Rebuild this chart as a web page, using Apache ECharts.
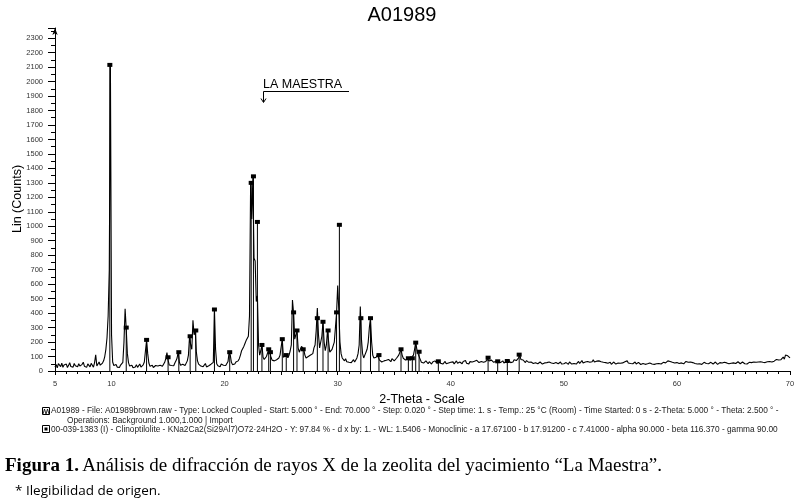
<!DOCTYPE html>
<html><head><meta charset="utf-8">
<script src="https://cdn.jsdelivr.net/npm/echarts@6/dist/echarts.min.js"></script>
<style>html,body{margin:0;padding:0;background:#fff}#c{width:799px;height:500px}</style>
</head><body><div id="c"></div>
<script>
const startTheta = 5.0;
const stepTheta = 0.1;
const counts = [
 28,45,22,51,38,30,55,26,42,35,
 48,24,39,57,31,44,27,52,36,41,
 29,50,34,23,46,61,33,40,25,49,
 37,28,53,42,26,58,112,35,47,62,
 40,33,55,70,100,150,230,380,700,2120,
 250,62,38,30,45,27,36,24,41,33,
 60,200,430,290,120,58,34,26,40,22,
 35,28,44,25,31,48,27,36,42,62,
 140,210,120,55,33,27,40,24,31,38,
 26,35,22,40,29,33,45,60,85,128,
 75,42,30,38,48,36,55,70,90,135,
 60,40,33,47,52,38,44,70,110,240,
 180,150,350,250,280,130,70,48,40,34,
 45,30,38,52,28,41,36,33,47,39,
 60,426,150,50,36,42,30,48,35,40,
 52,38,46,65,130,110,60,44,55,48,
 62,58,70,85,110,140,150,170,190,210,
 210,240,380,1300,1050,1340,780,760,480,520,
 180,110,140,180,95,80,70,100,90,150,
 130,95,75,82,70,66,78,72,90,110,
 120,220,95,90,110,100,92,110,140,180,
 490,400,220,250,280,160,130,150,170,160,
 150,110,90,88,100,92,110,98,120,160,
 180,280,435,250,160,170,240,340,200,140,
 180,280,200,130,120,150,160,200,300,400,
 590,420,200,120,90,80,70,85,64,72,
 60,70,58,66,78,62,70,90,120,180,
 445,220,120,90,110,130,150,200,300,365,
 200,110,90,80,95,110,120,75,70,62,
 58,70,62,74,66,80,72,64,85,78,
 70,82,88,95,110,130,150,110,88,80,
 75,70,90,85,75,92,88,110,150,200,
 150,120,133,80,60,66,55,62,70,58,
 50,64,56,48,62,57,70,60,52,70,
 65,54,60,48,58,66,50,61,55,47,
 60,52,63,49,57,70,53,48,62,55,
 50,66,58,72,54,60,48,65,57,62,
 56,68,60,74,62,58,70,65,78,60,
 72,66,80,92,70,62,75,68,60,72,
 68,70,66,74,58,64,70,55,62,66,
 69,75,64,58,70,62,78,85,72,80,
 90,113,80,70,76,66,58,72,64,60,
 55,62,68,52,60,57,64,50,58,62,
 54,48,60,56,45,58,52,62,49,55,
 60,52,47,58,64,50,56,62,48,53,
 50,44,58,52,46,62,55,48,60,52,
 56,48,60,66,52,58,72,55,50,62,
 58,66,75,60,70,64,78,62,56,68,
 62,70,58,64,55,60,52,58,66,54,
 50,60,46,56,62,52,48,58,55,60,
 54,62,56,48,64,58,70,55,60,52,
 58,50,56,62,48,55,60,50,45,54,
 52,58,46,55,50,44,56,60,48,52,
 46,55,50,44,52,58,48,54,60,50,
 56,62,70,58,66,74,60,68,55,62,
 58,64,52,60,56,62,50,58,66,54,
 60,55,62,50,58,64,52,56,48,54,
 50,56,46,54,60,48,52,58,50,55,
 60,52,48,55,62,50,46,54,58,50,
 55,48,60,52,56,64,50,58,54,62,
 56,60,52,58,64,55,50,58,62,54,
 50,56,48,54,60,52,58,55,62,56,
 60,54,62,58,64,56,60,66,58,62,
 64,58,66,70,62,74,68,72,80,70,
 76,84,78,90,96,82,110,100,105,95,
 90
];
// Reference pattern 00-039-1383 Clinoptilolite (stick positions / heights)
const refTheta = [9.85,11.3,13.1,15.0,15.95,16.95,17.45,19.1,20.45,22.35,22.55,22.9,23.3,23.9,24.05,25.1,25.45,26.1,26.4,26.95,28.2,28.7,29.15,29.9,30.15,32.05,32.9,33.65,35.6,36.25,36.6,36.9,37.2,38.9,43.3,44.15,45.0,46.05];
const refCounts = [2115,300,215,95,130,240,280,425,130,1300,1345,1030,180,150,130,220,110,405,280,150,365,340,280,405,1010,365,365,110,150,88,88,196,133,67,92,67,69,113];

const chartTitle = 'A01989';
const yName = 'Lin (Counts)';
const xName = '2-Theta - Scale';
const annotation = 'LA MAESTRA';
const legendLine1 = 'A01989 - File: A01989brown.raw - Type: Locked Coupled - Start: 5.000 \u00b0 - End: 70.000 \u00b0 - Step: 0.020 \u00b0 - Step time: 1. s - Temp.: 25 \u00b0C (Room) - Time Started: 0 s - 2-Theta: 5.000 \u00b0 - Theta: 2.500 \u00b0 -';
const legendLine2 = 'Operations: Background 1.000,1.000 | Import';
const legendLine3 = '00-039-1383 (I) - Clinoptilolite - KNa2Ca2(Si29Al7)O72\u00b724H2O - Y: 97.84 % - d x by: 1. - WL: 1.5406 - Monoclinic - a 17.67100 - b 17.91200 - c 7.41000 - alpha 90.000 - beta 116.370 - gamma 90.00';

const scan = counts.map((c, i) => [+(startTheta + i * stepTheta).toFixed(2), c]);
const sticks = refTheta.map((t, i) => [t, refCounts[i]]);

const chart = echarts.init(document.getElementById('c'), null, {renderer: 'canvas'});
const SANS = '"Liberation Sans", Arial, sans-serif';
chart.setOption({
  animation: false,
  backgroundColor: '#fff',
  grid: {left: 55, right: 9, top: 28, bottom: 129},
  xAxis: {
    type: 'value', min: 5, max: 70, interval: 5,
    axisLine: {lineStyle: {color: '#000', width: 1}},
    axisTick: {show: true, length: 4, lineStyle: {color: '#000'}},
    minorTick: {show: true, splitNumber: 5, length: 3, lineStyle: {color: '#000'}},
    axisLabel: {fontSize: 7.5, color: '#333', margin: 9, fontFamily: SANS,
      formatter: v => (v === 5 || v % 10 === 0) ? String(v) : ''},
    splitLine: {show: false}
  },
  yAxis: {
    type: 'value', min: 0, max: 2370, interval: 100,
    axisLine: {show: true, symbol: ['none', 'arrow'], symbolSize: [4, 7], lineStyle: {color: '#000', width: 1}},
    axisTick: {show: true, length: 7, lineStyle: {color: '#000'}},
    minorTick: {show: true, splitNumber: 2, length: 4, lineStyle: {color: '#000'}},
    axisLabel: {fontSize: 7.5, color: '#333', margin: 12, fontFamily: SANS, showMaxLabel: false,
      formatter: v => (v % 100 === 0) ? String(v) : ''},
    splitLine: {show: false}
  },
  series: [
    {type: 'line', data: scan, showSymbol: false, symbol: 'none',
     lineStyle: {color: '#000', width: 1.1}, z: 2},
    {type: 'custom', data: sticks, z: 3,
     renderItem: (params, api) => {
       const top = api.coord([api.value(0), api.value(1)]);
       const base = api.coord([api.value(0), 0]);
       return {type: 'group', children: [
         {type: 'line', shape: {x1: top[0], y1: base[1], x2: top[0], y2: top[1]}, style: {stroke: '#000', lineWidth: 1}},
         {type: 'rect', shape: {x: top[0] - 2.5, y: top[1] - 2, width: 5, height: 4}, style: {fill: '#000'}}
       ]};
     }}
  ],
  graphic: [
    {type: 'text', style: {text: chartTitle, x: 402, y: 15, textAlign: 'center', textVerticalAlign: 'middle', font: '20px ' + SANS, fill: '#000'}},
    {type: 'text', x: 18, y: 199, rotation: Math.PI / 2, style: {text: yName, x: 0, y: 0, textAlign: 'center', textVerticalAlign: 'middle', font: '12.5px ' + SANS, fill: '#000'}},
    {type: 'text', style: {text: xName, x: 422, y: 400, textAlign: 'center', textVerticalAlign: 'middle', font: '12.5px ' + SANS, fill: '#000'}},
    {type: 'text', style: {text: annotation, x: 263, y: 85, textAlign: 'left', textVerticalAlign: 'middle', font: '12.5px ' + SANS, fill: '#000'}},
    {type: 'line', shape: {x1: 263.5, y1: 91.5, x2: 349, y2: 91.5}, style: {stroke: '#000', lineWidth: 1}},
    {type: 'line', shape: {x1: 263.5, y1: 91.5, x2: 263.5, y2: 102}, style: {stroke: '#000', lineWidth: 1}},
    {type: 'polyline', shape: {points: [[261, 98.5], [263.5, 102.5], [266, 98.5]]}, style: {stroke: '#000', lineWidth: 1, fill: 'none'}},
    // legend icons
    {type: 'rect', shape: {x: 42.5, y: 407.5, width: 7, height: 7}, style: {stroke: '#000', fill: 'none', lineWidth: 1}},
    {type: 'polyline', shape: {points: [[43, 414], [44.5, 409], [46, 414], [47.5, 409], [49, 414]]}, style: {stroke: '#000', lineWidth: 0.8, fill: 'none'}},
    {type: 'text', style: {text: legendLine1, x: 51, y: 411, textVerticalAlign: 'middle', font: '8.3px ' + SANS, fill: '#222'}},
    {type: 'text', style: {text: legendLine2, x: 67, y: 421, textVerticalAlign: 'middle', font: '8.3px ' + SANS, fill: '#222'}},
    {type: 'rect', shape: {x: 42.5, y: 425.5, width: 7, height: 7}, style: {stroke: '#000', fill: 'none', lineWidth: 1}},
    {type: 'rect', shape: {x: 44.5, y: 427.5, width: 3, height: 3}, style: {fill: '#000'}},
    {type: 'text', style: {text: legendLine3, x: 51, y: 429.5, textVerticalAlign: 'middle', font: '8.3px ' + SANS, fill: '#222'}},
    // caption
    {type: 'text', style: {rich: {b: {font: 'bold 19px "Liberation Serif", serif', fill: '#000'}, n: {font: '19px "Liberation Serif", serif', fill: '#000'}},
      text: '{b|Figura 1.} {n|An\u00e1lisis de difracci\u00f3n de rayos X de la zeolita del yacimiento \u201cLa Maestra\u201d.}',
      x: 5, y: 466, textVerticalAlign: 'middle'}},
    {type: 'text', style: {text: '* Ilegibilidad de origen.', x: 15, y: 491, textVerticalAlign: 'middle', font: '13.5px "Open Sans", sans-serif', fill: '#000'}}
  ]
});
</script>
</body></html>
